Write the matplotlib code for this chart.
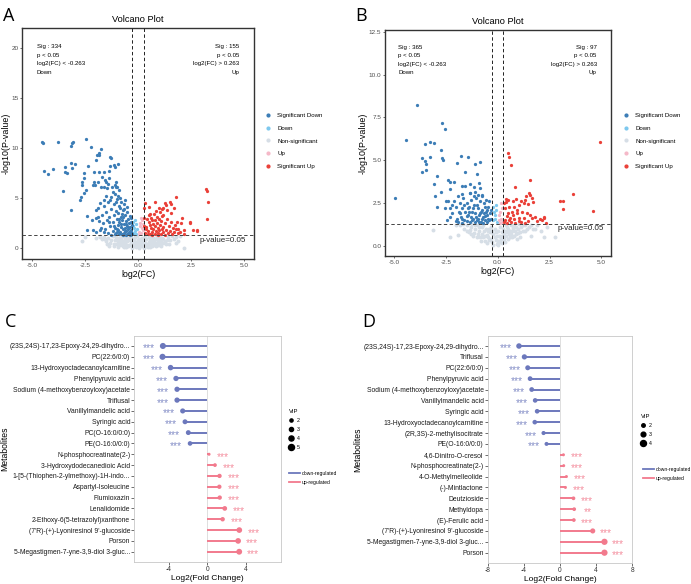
import matplotlib
matplotlib.use('Agg')
import matplotlib.pyplot as plt
from matplotlib.lines import Line2D
from matplotlib.transforms import offset_copy
import numpy as np

plt.rcParams['font.family'] = ['Liberation Sans', 'DejaVu Sans']

# ---------------- DATA ----------------
# Panel A volcano points (log2FC, -log10 p)
a_sig_down = [(-4.50,10.47),(-4.52,10.55),(-3.76,10.57),(-3.07,10.63),(-3.10,10.47),(-3.16,10.23),(-2.45,10.9),
    (-2.22,10.07),(-1.73,9.87),(-1.86,9.47),(-1.92,9.3),(-1.83,9.27),(-1.98,8.8),(-1.34,9.13),(-1.26,8.97),
    (-1.15,8.35),(-1.34,8.18),(-3.14,8.52),(-2.99,8.42),(-3.43,8.15),(-3.35,7.55),(-3.43,7.65),(-4.43,7.75),
    (-4.25,7.42),(-4.0,7.95),(-3.1,8.0),(-2.37,8.16),(-2.53,7.5),(-2.09,7.64),(-1.84,7.64),(-1.62,7.64),
    (-1.37,7.74),(-0.96,8.4),(-1.10,8.14),(-2.53,7.0),(-2.64,6.3),(-2.14,6.3),(-2.02,6.3),(-1.76,6.1),
    (-1.54,6.8),(-1.42,6.4),(-1.46,6.0),(-1.23,6.1),(-1.07,6.3),(-1.00,6.1),(-0.91,5.8),(-3.54,5.75),
    (-3.16,3.85),(-2.75,4.82),(-2.69,5.15),(-2.56,5.48),(-2.47,5.81),(-2.66,6.64),(-2.41,3.22),(-2.41,1.83),
    (-2.12,1.83),(-1.97,1.59),(-1.78,1.83),(-2.19,2.82),(-1.97,3.82),(-1.87,3.16),(-1.78,4.49),(-1.62,4.82),
    (-2.09,6.64),(-1.90,6.64),(-1.71,7.14),(-1.59,6.15),(-1.53,6.64),(-1.37,6.98),(-1.05,6.64),(-1.02,6.15),
    (-1.6,4.2),(-1.5,3.6),(-1.45,2.8),(-1.4,4.6),(-1.35,3.1),(-1.3,2.2),(-1.28,5.1),(-1.25,3.9),(-1.2,1.7),
    (-1.18,2.6),(-1.15,4.4),(-1.12,3.3),(-1.1,5.4),(-1.08,2.0),(-1.05,3.7),(-1.02,1.5),(-1.0,2.9),(-0.98,4.9),
    (-0.96,2.3),(-0.94,3.5),(-0.92,1.8),(-0.9,4.2),(-0.88,2.6),(-0.86,5.0),(-0.84,1.6),(-0.82,3.1),(-0.8,2.1),
    (-0.78,4.6),(-0.76,1.4),(-0.74,2.8),(-0.72,3.8),(-0.7,1.9),(-0.68,2.4),(-0.66,4.4),(-0.64,1.5),(-0.62,3.3),
    (-0.6,2.0),(-0.58,2.7),(-0.56,1.7),(-0.54,3.6),(-0.52,2.2),(-0.5,1.45),(-0.48,2.9),(-0.46,1.9),(-0.44,2.5),
    (-0.42,1.6),(-0.4,3.2),(-0.38,2.1),(-0.36,1.5),(-0.34,2.6),(-0.32,1.8),(-0.3,2.3),(-0.29,1.4),
    (-1.7,3.3),(-1.65,2.5),(-1.55,1.9),(-1.75,2.0),(-1.85,2.7),(-1.9,4.0),(-2.0,3.0),(-1.5,5.2),(-1.3,4.8),
    (-1.2,5.6),(-0.95,5.2),(-0.85,4.0),(-1.4,1.5),(-1.1,1.4),(-0.7,1.35),(-0.55,1.35),(-0.45,1.4),(-1.6,1.6),
    (-0.65,3.9),(-0.75,3.4),(-0.88,1.4),(-1.0,1.9),(-1.25,1.35),(-0.6,4.8),(-1.05,4.6),(-0.35,3.0),(-0.5,4.1),
    (-0.4,1.35),(-0.62,1.75),(-0.78,2.45),(-0.9,2.95),(-1.15,2.25),(-0.48,2.15),(-0.34,1.65),(-0.56,2.45),
    (-0.7,3.1),(-1.35,2.6),(-0.98,1.65)]
a_down = [(-0.25,1.5),(-0.2,2.0),(-0.15,1.7),(-0.1,2.4),(-0.22,2.6),(-0.08,1.4),(-0.18,1.4),(-0.05,1.9),
    (-0.12,2.8),(-0.24,2.2)]
a_nonsig = [(-1.6,1.1),(-1.5,0.7),(-1.4,1.0),(-1.3,0.5),(-1.2,1.2),(-1.1,0.8),(-1.0,0.4),(-0.9,1.0),(-0.8,0.6),
    (-0.7,0.2),(-0.6,1.1),(-0.5,0.7),(-0.4,0.3),(-0.3,0.9),(-0.2,0.5),(-0.1,0.1),(0.0,0.8),(0.1,0.4),(0.2,1.0),
    (0.3,0.6),(0.4,0.2),(0.5,1.1),(0.6,0.7),(0.7,0.3),(0.8,0.9),(0.9,0.5),(1.0,1.2),(1.1,0.6),(1.2,0.9),
    (1.3,0.4),(1.4,1.1),(1.5,0.8),(1.6,1.2),(-0.9,0.3),(-0.75,1.2),(-0.65,0.5),(-0.55,0.15),(-0.45,1.0),
    (-0.35,0.55),(-0.25,0.2),(-0.15,1.15),(-0.05,0.45),(0.05,0.05),(0.15,0.75),(0.25,0.25),(0.35,1.2),
    (0.45,0.45),(0.55,0.1),(0.65,0.95),(0.75,0.6),(0.85,0.2),(0.95,0.85),(1.05,0.35),(-1.05,1.1),(-1.25,0.85),
    (-0.95,0.65),(-0.85,0.85),(-0.6,0.4),(-0.3,0.0),(0.0,0.25),(0.3,0.05),(0.6,0.45),(1.15,1.0),(1.25,0.7),
    (-1.7,0.9),(-1.8,1.2),(1.7,0.9),(1.8,1.1),(1.9,0.7),(-2.66,0.76),(-2.5,1.1),(-1.79,1.1),(2.15,0.0),
    (1.78,0.5),(2.0,1.2),(-2.0,1.0),
    (-1.35,0.25),(-1.15,0.45),(-0.95,0.15),(-0.8,1.05),(-0.7,0.75),(-0.5,0.35),(-0.4,0.85),(-0.2,0.95),
    (-0.1,0.6),(0.1,0.9),(0.2,0.55),(0.3,0.35),(0.4,0.95),(0.5,0.6),(0.7,1.05),(0.8,0.35),(0.9,1.1),(1.0,0.65),
    (1.1,0.25),(1.2,0.5),(1.35,0.8),(1.45,0.45),(-1.45,0.45),(-1.55,0.9),(-0.65,0.1),(-0.45,0.2),(-0.25,0.65),
    (-0.05,1.2),(0.05,0.9),(0.15,0.2),(0.25,0.8),(0.45,0.15),(0.55,0.85),(0.65,0.2),(0.75,0.85),(0.85,0.55),
    (0.95,0.3),(1.05,0.9),(-1.15,0.2),(-0.85,0.5),(-0.55,0.8),(-0.35,1.15),(-0.15,0.3),(0.35,0.5),(0.6,1.2),
    (-1.0,0.9),(-0.75,0.35),(-0.6,0.95),(0.0,0.55),(0.5,0.25)]
a_up = [(0.05,1.6),(0.1,2.2),(0.15,1.5),(0.2,2.8),(0.12,3.0),(0.22,1.8),(0.08,2.5),(0.18,2.0),(0.03,1.4),(0.25,2.4)]
a_sig_up = [(3.21,5.88),(3.27,5.74),(3.30,4.59),(3.25,2.95),(1.78,5.15),(0.31,4.49),(0.80,4.59),(1.27,4.55),
    (1.32,4.32),(1.57,4.45),(1.54,3.55),(0.28,3.99),(0.57,3.39),(0.97,3.99),(1.15,3.95),(1.19,3.32),(1.82,2.65),
    (2.01,2.49),(2.45,2.59),(2.18,1.79),(2.61,1.79),(2.77,1.75),(1.90,1.89),(2.06,2.99),(2.47,2.56),(2.78,1.83),
    (2.19,1.4),(1.53,4.65),(1.68,3.99),
    (0.35,1.5),(0.4,2.1),(0.45,1.7),(0.5,2.6),(0.55,1.4),(0.6,2.0),(0.62,3.0),(0.65,1.6),(0.7,2.4),(0.72,1.9),
    (0.75,3.4),(0.78,1.45),(0.8,2.8),(0.82,2.2),(0.85,1.7),(0.88,3.1),(0.9,2.5),(0.92,1.5),(0.95,2.0),(0.98,2.9),
    (1.0,1.8),(1.02,3.6),(1.05,2.3),(1.08,1.4),(1.1,2.7),(1.12,1.9),(1.15,3.2),(1.18,2.1),(1.2,1.6),(1.25,2.5),
    (1.3,1.8),(1.35,2.9),(1.4,1.5),(1.45,2.2),(1.5,1.7),(1.55,2.6),(1.6,1.45),(1.65,2.0),(1.7,1.6),(1.8,1.9),
    (1.9,1.5),(0.42,2.9),(0.52,3.3),(0.58,2.3),(0.68,2.8),(0.38,1.9),(0.48,1.45),(0.66,1.35),(0.96,1.35),
    (1.28,1.35),(1.75,2.3),(2.0,1.6),(1.35,3.8),(1.2,4.0),(0.85,3.7),(0.5,4.1),(0.3,3.0),(0.3,2.2)]

# Panel B volcano points
b_sig_down = [(-4.42,6.18),(-3.51,5.93),(-3.27,6.08),(-3.08,6.02),(-2.74,5.6),(-2.63,5.01),(-2.70,5.15),
    (-3.63,5.15),(-3.24,5.21),(-3.47,4.78),(-3.51,4.97),(-3.64,4.30),(-3.47,4.43),(-2.92,4.10),(-3.08,3.62),
    (-3.03,2.90),(-4.97,2.78),(-1.78,5.27),(-1.44,5.21),(-1.98,4.86),(-1.09,4.80),(-0.85,4.90),(-1.58,4.33),
    (-1.01,4.20),(-2.38,3.85),(-2.30,3.75),(-2.11,3.71),(-1.74,3.52),(-1.56,3.5),(-1.33,3.61),(-0.88,3.65),
    (-1.15,3.46),(-0.85,3.36),(-2.74,3.17),(-2.32,3.31),(-2.54,2.23),(-1.71,3.03),(-1.33,3.11),(-1.09,3.17),
    (-0.77,2.97),(-3.89,8.2),(-2.70,7.15),(-2.52,6.8),
    (-2.4,2.6),(-2.3,2.2),(-2.2,1.9),(-2.1,2.6),(-2.0,2.3),(-1.95,1.6),(-1.9,2.9),(-1.85,2.0),(-1.8,2.5),
    (-1.75,1.7),(-1.7,2.2),(-1.65,2.8),(-1.6,1.5),(-1.55,2.0),(-1.5,2.5),(-1.45,1.8),(-1.4,2.3),(-1.35,1.4),
    (-1.3,2.7),(-1.25,2.0),(-1.2,1.6),(-1.15,2.4),(-1.1,1.9),(-1.05,2.8),(-1.0,1.5),(-0.95,2.2),(-0.9,1.8),
    (-0.85,2.6),(-0.8,1.4),(-0.75,2.1),(-0.7,1.7),(-0.65,2.5),(-0.6,1.5),(-0.55,2.0),(-0.5,1.8),(-0.45,2.3),
    (-0.4,1.5),(-0.35,1.9),(-0.3,1.6),(-1.9,1.4),(-1.7,1.35),(-1.5,1.45),(-1.3,1.7),(-1.2,2.2),(-1.0,2.4),
    (-0.9,1.4),(-0.7,1.35),(-0.6,2.3),(-0.5,1.4),(-1.6,2.4),(-1.4,2.0),(-1.1,1.4),(-0.85,1.9),(-0.65,1.9),
    (-0.45,1.6),(-1.8,1.9),(-2.2,2.4),(-2.5,2.6),(-2.0,1.45),(-1.15,2.9),(-0.95,3.0),(-0.75,2.9),(-0.4,2.6),
    (-1.35,3.1),(-2.9,2.3),(-2.45,1.5),(-2.3,1.7),(-0.55,2.7),(-0.3,2.1),(-1.25,1.5),(-1.05,1.7),(-0.8,2.0),
    (-0.6,1.75),(-1.5,1.75),(-1.7,1.55),(-1.45,2.2),(-0.95,1.6),(-0.75,1.55),(-0.5,2.1)]
b_down = [(-0.22,1.5),(-0.18,2.0),(-0.12,1.6),(-0.08,2.4),(-0.2,2.3),(-0.05,1.4),(-0.15,1.8),(-0.1,2.1)]
b_nonsig = [(-1.8,1.2),(-1.6,1.0),(-1.5,1.25),(-1.4,0.8),(-1.3,1.1),(-1.2,0.6),(-1.1,1.0),(-1.0,0.5),(-0.9,0.9),
    (-0.8,0.3),(-0.7,1.2),(-0.6,0.6),(-0.5,0.2),(-0.4,1.0),(-0.3,0.4),(-0.2,0.05),(-0.1,0.8),(0.0,0.3),(0.1,1.1),
    (0.2,0.15),(0.3,0.7),(0.4,1.2),(0.5,0.4),(0.6,0.9),(0.7,0.5),(0.8,1.15),(0.9,0.7),(1.0,1.0),(1.1,0.8),
    (1.2,1.2),(1.3,0.9),(1.5,1.1),(1.7,1.0),(1.9,1.2),(2.1,0.9),(-1.65,1.3),(-1.25,1.3),(-0.95,1.2),(-0.75,0.7),
    (-0.55,1.0),(-0.35,0.8),(-0.15,0.5),(0.05,0.6),(0.25,1.0),(0.45,0.8),(0.65,1.2),(0.85,0.9),(1.05,1.3),
    (-0.45,0.5),(-0.25,0.9),(0.15,0.4),(0.35,0.25),(-0.05,0.1),(-3.14,0.93),(-1.9,0.64),(2.22,0.5),(2.78,0.5),
    (-2.3,0.5),(1.6,0.6),
    (-1.35,0.95),(-1.15,0.75),(-0.95,0.7),(-0.85,0.55),(-0.65,0.85),(-0.5,0.65),(-0.4,0.35),(-0.3,1.1),
    (-0.2,0.7),(-0.1,0.35),(0.0,0.9),(0.1,0.6),(0.2,0.8),(0.3,0.4),(0.4,0.6),(0.5,1.0),(0.6,0.5),(0.7,0.9),
    (0.8,0.6),(0.9,1.1),(1.0,0.75),(1.2,0.9),(1.4,1.0),(-1.5,0.9),(-1.1,1.25),(-0.75,1.1),(-0.6,0.3),
    (-0.25,0.25),(0.0,0.05),(0.1,0.25),(0.25,0.6),(0.45,1.1),(0.55,0.7),(0.75,1.05),(1.15,1.1),(1.3,1.2),
    (-0.9,1.1),(-0.45,0.9),(-0.05,0.6),(0.35,0.9),(-1.3,0.7),(1.6,1.2),(1.8,1.0),(-2.0,1.2),(2.4,1.1),
    (-0.15,1.0),(0.65,0.7),(-0.7,0.5),(1.1,0.5),(0.95,0.4)]
b_up = [(0.05,1.5),(0.1,2.0),(0.15,1.6),(0.2,2.2),(0.22,1.4),(0.08,1.8),(0.18,2.5),(0.12,1.35)]
b_sig_up = [(4.93,6.05),(0.52,5.44),(0.56,5.21),(0.64,4.74),(1.58,3.85),(3.65,3.03),(3.03,2.62),(3.13,2.62),
    (3.13,2.16),(4.61,2.02),(0.85,3.46),
    (1.49,3.07),(1.58,2.97),(1.38,2.94),(1.66,2.78),(1.70,2.58),(1.33,2.68),(1.45,2.45),(1.25,2.53),(1.12,2.62),
    (1.01,2.39),(0.90,2.74),(0.73,2.64),(0.52,2.68),(0.41,2.58),(0.57,2.29),(0.77,2.26),(0.93,2.1),(1.17,2.0),
    (1.41,1.9),(1.58,1.81),(1.66,1.61),(1.82,1.67),(2.06,1.56),(2.22,1.61),(2.35,1.36),(1.25,1.65),(1.01,1.65),
    (0.80,1.56),(0.61,1.61),(0.44,1.75),(0.36,1.52),(0.52,1.9),(0.69,2.0),(0.36,2.2),(1.12,1.42),(1.45,1.48),
    (2.25,1.71),(2.14,1.52),(0.3,1.4),(0.45,1.35),(0.65,1.4),(0.85,1.35),(1.05,1.45),(0.55,1.5),(0.75,1.8),
    (0.95,1.9),(0.3,2.5),(0.4,2.75),(1.9,1.45),(1.3,1.35)]

volcano_groups = ['Significant Down', 'Down', 'Non-significant', 'Up', 'Significant Up']
volcano_colors = ['#3C7DB6', '#7DC8EE', '#D6DEE6', '#F5B8C8', '#EA4038']

# Panel C lollipop
c_names = ['(23S,24S)-17,23-Epoxy-24,29-dihydro...', 'PC(22:6/0:0)', '13-Hydroxyoctadecanoylcarnitine',
    'Phenylpyruvic acid', 'Sodium (4-methoxybenzoyloxy)acetate', 'Triflusal', 'Vanillylmandelic acid',
    'Syringic acid', 'PC(O-16:0/0:0)', 'PE(O-16:0/0:0)', 'N-phosphocreatinate(2-)', '3-Hydroxydodecanedioic Acid',
    '1-[5-(Thiophen-2-ylmethoxy)-1H-indo...', 'Aspartyl-Isoleucine', 'Flumioxazin', 'Lenalidomide',
    '2-Ethoxy-6(5-tetrazolyl)xanthone', "(7'R)-(+)-Lyoniresinol 9'-glucoside", 'Porson',
    '5-Megastigmen-7-yne-3,9-diol 3-gluc...']
c_fc = [-4.58, -4.62, -3.79, -3.23, -3.12, -3.12, -2.54, -2.30, -1.96, -1.78,
        0.18, 0.79, 1.26, 1.24, 1.28, 1.80, 1.58, 3.30, 3.18, 3.29]
c_vip = [5.0, 5.0, 4.4, 4.2, 4.2, 4.2, 4.0, 3.8, 3.8, 3.5,
         1.8, 2.6, 3.2, 3.2, 3.2, 3.6, 3.3, 4.6, 4.6, 4.8]
c_sig = ['***'] * 20

# Panel D lollipop
d_names = ['(23S,24S)-17,23-Epoxy-24,29-dihydro...', 'Triflusal', 'PC(22:6/0:0)', 'Phenylpyruvic acid',
    'Sodium (4-methoxybenzoyloxy)acetate', 'Vanillylmandelic acid', 'Syringic acid',
    '13-Hydroxyoctadecanoylcarnitine', '(2R,3S)-2-methylisocitrate', 'PE(O-16:0/0:0)', '4,6-Dinitro-O-cresol',
    'N-phosphocreatinate(2-)', '4-O-Methylmelleolide', '(-)-Mintlactone', 'Deutzioside', 'Methyldopa',
    '(E)-Ferulic acid', "(7'R)-(+)-Lyoniresinol 9'-glucoside", '5-Megastigmen-7-yne-3,9-diol 3-gluc...', 'Porson']
d_fc = [-4.54, -3.94, -3.57, -3.31, -3.13, -2.75, -2.53, -2.79, -1.82, -1.49,
        0.38, 0.41, 0.71, 0.60, 1.49, 1.57, 1.53, 3.62, 4.92, 4.92]
d_vip = [3.6, 3.4, 3.2, 3.0, 3.0, 2.9, 2.9, 2.9, 2.5, 2.4,
         1.6, 1.6, 1.6, 1.6, 2.2, 2.2, 2.2, 3.3, 4.2, 4.2]
d_sig = ['***'] * 15 + ['**'] + ['***'] * 4

lolli_blue = '#6C78BC'
lolli_pink = '#F27A8D'

# ---------------- LAYOUT ----------------
W, H = 691, 584
fig = plt.figure(figsize=(W / 100, H / 100), dpi=100)

def rect(l, t, r, b):
    return [l / W, 1 - b / H, (r - l) / W, (b - t) / H]

def fx(px):
    return px / W

def fy(py):
    return 1 - py / H


def volcano(box, groups, xlim, ylim, yticks, ytfmt, down_n, up_n, ann_top, leg_xy, ylab_x):
    ax = fig.add_axes(rect(*box))
    order = [2, 1, 3, 0, 4]
    for gi in order:
        pts = groups[gi]
        xs = [p[0] for p in pts]
        ys = [p[1] for p in pts]
        ax.scatter(xs, ys, s=(8 if gi == 2 else 5.5), color=volcano_colors[gi], linewidths=0, zorder=2)
    for v in (-0.263, 0.263):
        ax.axvline(v, color='#222222', ls=(0, (3.5, 2.5)), lw=0.7, zorder=3)
    ax.axhline(-np.log10(0.05), color='#444444', ls=(0, (3.5, 2.5)), lw=0.7, zorder=3)
    ax.set_xlim(*xlim)
    ax.set_ylim(*ylim)
    ax.set_xticks([-5, -2.5, 0, 2.5, 5])
    ax.set_xticklabels(['-5.0', '-2.5', '0.0', '2.5', '5.0'])
    ax.set_yticks(yticks)
    ax.set_yticklabels([ytfmt.format(v) for v in yticks])
    ax.tick_params(labelsize=4.6, labelcolor='#4D4D4D', length=1.6, width=0.5, color='#333333', pad=1.0)
    for sp in ax.spines.values():
        sp.set_color('#333333')
        sp.set_linewidth(1.0)
    ax.set_title('Volcano Plot', fontsize=6.7, pad=4)
    ax.set_xlabel('log2(FC)', fontsize=6.3, labelpad=1.5)
    ax.set_ylabel('-log10(P-value)', fontsize=6.4)
    ax.yaxis.set_label_coords((ylab_x - box[0]) / (box[2] - box[0]), 0.5)
    ax.text(-4.78, ann_top, 'Sig : %d\np < 0.05\nlog2(FC) < -0.263\nDown' % down_n, fontsize=4.4,
            ha='left', va='top', linespacing=1.9)
    ax.text(4.78, ann_top, 'Sig : %d\np < 0.05\nlog2(FC) > 0.263\nUp' % up_n, fontsize=4.4,
            ha='right', va='top', linespacing=1.9)
    ax.text(2.9, -np.log10(0.05) - 0.15 * (ylim[1] - ylim[0]) / 23, 'p-value=0.05', fontsize=5.8,
            ha='left', va='top', color='#222222')
    handles = [Line2D([], [], marker='o', ls='', color=c, markersize=2.0) for c in volcano_colors]
    ax.legend(handles, volcano_groups, loc='upper left', bbox_to_anchor=(fx(leg_xy[0]), fy(leg_xy[1])),
              bbox_transform=fig.transFigure, frameon=False, fontsize=4.4, handlelength=0.8,
              handletextpad=1.1, labelspacing=1.2, borderpad=0, borderaxespad=0)
    return ax

volcano((22, 28, 254, 259), [a_sig_down, a_down, a_nonsig, a_up, a_sig_up], (-5.47, 5.47), (-1.07, 21.96),
        [0, 5, 10, 15, 20], '{:g}', 334, 155, 20.35, (265.5, 113), 10.8)
volcano((385, 30, 610.7, 256), [b_sig_down, b_down, b_nonsig, b_up, b_sig_up], (-5.43, 5.45), (-0.58, 12.6),
        [0.0, 2.5, 5.0, 7.5, 10.0, 12.5], '{:.1f}', 365, 97, 11.75, (623.5, 113), 367.5)


def lollipop(box, names, fc, vip, sig, xlim, xticks, dfun, vip_levels, vip_leg_xy, line_leg_xy, ylab_x):
    ax = fig.add_axes(rect(*box))
    n = len(names)
    ys = np.arange(1, n + 1)
    cols = [lolli_blue if v < 0 else lolli_pink for v in fc]
    ax.axvline(0, color='#D9D9D9', lw=0.6, zorder=1)
    ax.hlines(ys, 0, fc, colors=cols, lw=1.4, zorder=2)
    sizes = [(dfun(v) * 0.72) ** 2 for v in vip]
    ax.scatter(fc, ys, s=sizes, c=cols, linewidths=0, zorder=3)
    star_tr = offset_copy(ax.transData, fig=fig, y=-4.0, units='points')
    for yv, v, sg, c in zip(ys, fc, sig, cols):
        xs = v - 1.45 if v < 0 else v + 1.45
        ax.text(xs, yv, sg, fontsize=7.4, color=c, ha='center', va='baseline', transform=star_tr, alpha=0.85)
    ax.set_ylim(n + 0.92, 0.08)
    ax.set_yticks(ys)
    ax.set_yticklabels(names)
    ax.set_xlim(*xlim)
    ax.set_xticks(xticks)
    ax.set_xticklabels([str(t) for t in xticks])
    ax.tick_params(axis='y', labelsize=4.9, labelcolor='#1A1A1A', length=2, width=0.5, color='#333333', pad=1)
    ax.tick_params(axis='x', labelsize=4.8, labelcolor='#333333', length=2, width=0.5, color='#333333', pad=1)
    for sp in ax.spines.values():
        sp.set_color('#C8C8C8')
        sp.set_linewidth(0.6)
    ax.set_xlabel('Log2(Fold Change)', fontsize=6.0, labelpad=1.5)
    ax.set_ylabel('Metabolites', fontsize=6.2)
    ax.yaxis.set_label_coords((ylab_x - box[0]) / (box[2] - box[0]), 0.5)
    vh = [Line2D([], [], marker='o', ls='', color='black', markersize=dfun(v) * 0.72) for v in vip_levels]
    leg1 = ax.legend(vh, [str(v) for v in vip_levels], title='VIP', loc='upper left',
                     bbox_to_anchor=(fx(vip_leg_xy[0]), fy(vip_leg_xy[1])), bbox_transform=fig.transFigure,
                     frameon=False, fontsize=3.8, title_fontsize=4.2, handlelength=0.9, handletextpad=0.6,
                     labelspacing=0.75, borderpad=0, borderaxespad=0)
    leg1._legend_box.align = 'left'
    ax.add_artist(leg1)
    lh = [Line2D([], [], color=lolli_blue, lw=1.3), Line2D([], [], color=lolli_pink, lw=1.3)]
    ax.legend(lh, ['down-regulated', 'up-regulated'], loc='upper left',
              bbox_to_anchor=(fx(line_leg_xy[0]), fy(line_leg_xy[1])), bbox_transform=fig.transFigure,
              frameon=False, fontsize=3.6, handlelength=2.2, handletextpad=0.35, labelspacing=0.75,
              borderpad=0, borderaxespad=0)
    return ax

lollipop((134.3, 336, 280.7, 561.7), c_names, c_fc, c_vip, c_sig, (-7.53, 7.57), [-4, 0, 4],
         lambda v: 1.3 + 0.95 * v, [2, 3, 4, 5], (289, 409), (288.5, 471), 9.0)
lollipop((487.7, 336, 632.3, 562.7), d_names, d_fc, d_vip, d_sig, (-8, 8), [-8, -4, 0, 4, 8],
         lambda v: 1.0 + 1.25 * v, [2, 3, 4], (641, 414), (643, 467), 362.0)

# panel letters
for letter, (px, py) in zip('ABCD', [(3, 21), (355, 21), (5, 327), (362, 327)]):
    fig.text(fx(px), fy(py), letter, fontsize=13, ha='left', va='baseline', family=['Open Sans', 'DejaVu Sans'])

fig.savefig('out.png', dpi=100)
